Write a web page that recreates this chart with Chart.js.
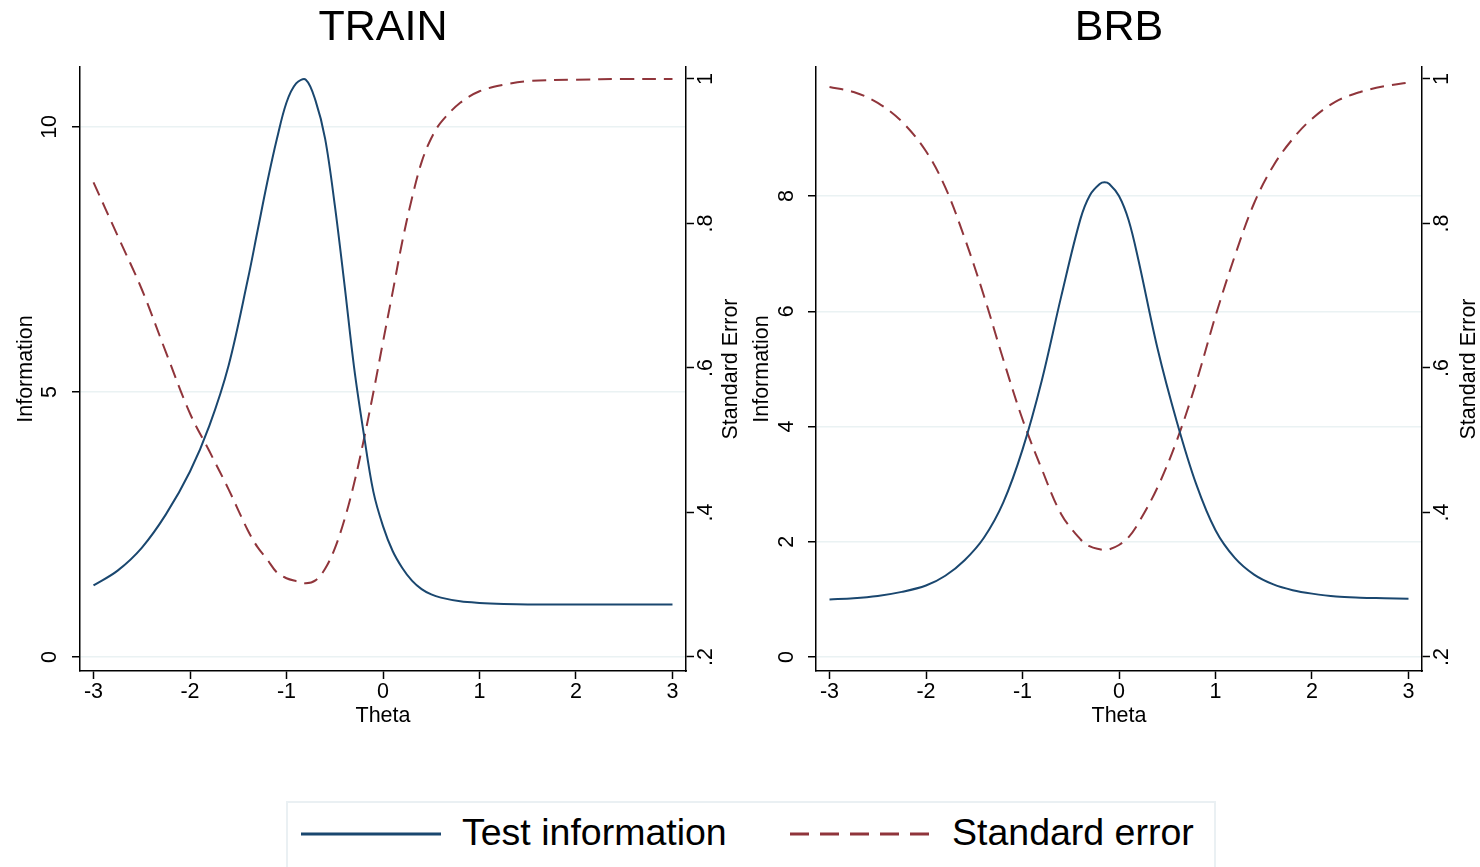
<!DOCTYPE html>
<html>
<head>
<meta charset="utf-8">
<title>TRAIN / BRB test information</title>
<script src="https://cdn.jsdelivr.net/npm/chart.js@4/dist/chart.umd.min.js"></script>
<style>
  html, body { margin: 0; padding: 0; background: #fff; }
  body { position: relative; width: 1480px; height: 867px; overflow: hidden;
         font-family: "Liberation Sans", Arial, sans-serif; }
  .panel { position: absolute; top: 0; width: 740px; height: 760px; }
  #legend-box { position: absolute; left: 286px; top: 801px; width: 926px; height: 90px;
                border: 2px solid #eaf0f3; background: #fff; }
  .key { position: absolute; top: 829px; }
  .key-text { position: absolute; top: 814px; font-size: 37.5px; line-height: 37px; color: #000; white-space: nowrap; }
</style>
</head>
<body>
<div class="panel" style="left:0"><canvas id="chart-train"></canvas></div>
<div class="panel" style="left:740px"><canvas id="chart-brb"></canvas></div>

<div id="legend-box"></div>
<svg class="key" style="left:300px" width="142" height="10">
  <line x1="1" y1="5" x2="141" y2="5" stroke="#1a476f" stroke-width="3"/>
</svg>
<span class="key-text" style="left:462px">Test information</span>
<svg class="key" style="left:789px" width="142" height="10">
  <line x1="1" y1="5" x2="141" y2="5" stroke="#90353b" stroke-width="3" stroke-dasharray="19 11"/>
</svg>
<span class="key-text" style="left:952px">Standard error</span>

<script>
// values
const thetaTicks = [-3, -2, -1, 0, 1, 2, 3];
const seTicks = [0.2, 0.4, 0.6, 0.8, 1];
const seTickLabels = ['.2', '.4', '.6', '.8', '1'];
const trainInfoTicks = [0, 5, 10];
const brbInfoTicks = [0, 2, 4, 6, 8];

const trainTheta = [-3, -2.75, -2.5, -2.25, -2, -1.8, -1.6, -1.4, -1.3, -1.2, -1.1, -1,
  -0.9, -0.8, -0.7, -0.6, -0.5, -0.4, -0.3, -0.2, -0.1, 0, 0.1, 0.2, 0.3, 0.4, 0.5,
  0.6, 0.8, 1, 1.25, 1.5, 2, 2.5, 3];
const trainInfo = [1.35, 1.63, 2.06, 2.69, 3.50, 4.36, 5.50, 7.13, 8.04, 8.95, 9.77, 10.46,
  10.82, 10.89, 10.50, 9.78, 8.53, 7.04, 5.47, 4.22, 3.12, 2.47, 2.00, 1.68, 1.44, 1.28, 1.18,
  1.12, 1.05, 1.02, 1.00, 0.99, 0.99, 0.99, 0.99];
const trainSE = [0.857, 0.783, 0.709, 0.622, 0.537, 0.485, 0.432, 0.375, 0.352, 0.335, 0.317, 0.309,
  0.305, 0.302, 0.306, 0.322, 0.350, 0.390, 0.440, 0.500, 0.566, 0.636, 0.705, 0.775, 0.835, 0.885, 0.918,
  0.940, 0.967, 0.983, 0.992, 0.997, 0.999, 1.0, 1.0];

const brbTheta = [-3, -2.75, -2.5, -2.25, -2, -1.8, -1.6, -1.4, -1.2, -1, -0.8, -0.6, -0.4,
  -0.3, -0.2, -0.15, -0.1, 0, 0.1, 0.2, 0.4, 0.6, 0.8, 1, 1.2, 1.4, 1.6, 1.8, 2, 2.25, 2.5, 2.75, 3];
const brbInfo = [1.00, 1.02, 1.06, 1.13, 1.24, 1.41, 1.68, 2.07, 2.68, 3.60, 4.80, 6.25, 7.60,
  8.02, 8.21, 8.24, 8.21, 8.00, 7.58, 6.90, 5.35, 4.08, 3.00, 2.20, 1.72, 1.43, 1.26, 1.16, 1.10, 1.05,
  1.03, 1.02, 1.01];
const brbSE = [0.989, 0.982, 0.967, 0.941, 0.900, 0.850, 0.780, 0.700, 0.612, 0.529, 0.460, 0.398, 0.363,
  0.353, 0.349, 0.348, 0.349, 0.355, 0.366, 0.385, 0.435, 0.500, 0.580, 0.672, 0.755, 0.828, 0.880, 0.917, 0.945,
  0.969, 0.982, 0.990, 0.995];

const BLUE = '#1a476f';
const RED = '#90353b';
const GRID = '#eaf2f3';
const FONT = '"Liberation Sans", Arial, sans-serif';

Chart.defaults.font.family = FONT;
Chart.defaults.color = '#000';

// panel title over the plot area + right axis title reading bottom-to-top
const panelText = {
    id: 'panelText',
    afterDraw(chart, args, o) {
        const { ctx, chartArea } = chart;
        ctx.save();
        ctx.fillStyle = '#000';
        ctx.textAlign = 'center';
        ctx.textBaseline = 'middle';
        ctx.font = '43px ' + FONT;
        ctx.fillText(o.title, (chartArea.left + chartArea.right) / 2, o.titleY);
        ctx.font = '21.5px ' + FONT;
        ctx.translate(o.rightTitleX, (chartArea.top + chartArea.bottom) / 2);
        ctx.rotate(-Math.PI / 2);
        ctx.fillText(o.rightTitle, 0, 0);
        ctx.restore();
    }
};

function points(xs, ys) {
    return xs.map((x, i) => ({ x: x, y: ys[i] }));
}

function makeChart(id, cfg) {
    const tickFont = { size: 21.5 };
    return new Chart(document.getElementById(id), {
        type: 'line',
        data: {
            datasets: [{
                label: 'Test information',
                data: points(cfg.theta, cfg.info),
                yAxisID: 'y',
                borderColor: BLUE,
                borderWidth: 2,
                pointRadius: 0,
                tension: 0.35,
                fill: false
            }, {
                label: 'Standard error',
                data: points(cfg.theta, cfg.se),
                yAxisID: 'y2',
                borderColor: RED,
                borderWidth: 2,
                borderDash: [14, 8],
                pointRadius: 0,
                tension: 0.35,
                fill: false
            }]
        },
        options: {
            responsive: true,
            maintainAspectRatio: false,
            animation: false,
            layout: { padding: { top: 67, left: 0, right: 0, bottom: 0 } },
            plugins: {
                legend: { display: false },
                tooltip: { enabled: false },
                panelText: { title: cfg.title, titleY: 28.5, rightTitle: 'Standard Error', rightTitleX: cfg.rightTitleX }
            },
            scales: {
                x: {
                    type: 'linear',
                    min: -3.14,
                    max: 3.14,
                    afterBuildTicks: s => { s.ticks = thetaTicks.map(v => ({ value: v })); },
                    afterFit: s => { s.height = 89; },
                    grid: { drawOnChartArea: false, tickLength: 8, tickColor: '#000', tickWidth: 1.5 },
                    border: { color: '#000', width: 1.5 },
                    ticks: { color: '#000', font: tickFont, padding: 0, maxRotation: 0, autoSkip: false },
                    title: { display: true, text: 'Theta', color: '#000', font: tickFont, padding: { top: 0, bottom: 31 } }
                },
                y: {
                    type: 'linear',
                    position: 'left',
                    min: cfg.infoMin,
                    max: cfg.infoMax,
                    afterBuildTicks: s => { s.ticks = cfg.infoTicks.map(v => ({ value: v })); },
                    afterFit: s => { s.width = cfg.leftWidth; },
                    grid: { color: GRID, lineWidth: 1.5, tickLength: 8, tickColor: '#000', tickWidth: 1.5 },
                    border: { color: '#000', width: 1.5 },
                    ticks: { color: '#000', font: tickFont, minRotation: 90, maxRotation: 90, crossAlign: 'center',
                             padding: cfg.leftTickPad, autoSkip: false },
                    title: { display: true, text: 'Information', color: '#000', font: tickFont,
                             padding: { top: cfg.leftTitlePad, bottom: 0 } }
                },
                y2: {
                    type: 'linear',
                    position: 'right',
                    min: 0.1806,
                    max: 1.0166,
                    afterBuildTicks: s => { s.ticks = seTicks.map(v => ({ value: v })); },
                    afterFit: s => { s.width = cfg.rightWidth; },
                    grid: { drawOnChartArea: false, tickLength: 8, tickColor: '#000', tickWidth: 1.5 },
                    border: { color: '#000', width: 1.5 },
                    ticks: { color: '#000', font: tickFont, minRotation: 90, maxRotation: 90, crossAlign: 'center',
                             padding: 3, autoSkip: false, callback: (v, i) => seTickLabels[i] },
                    title: { display: false }
                }
            }
        },
        plugins: [panelText]
    });
}

makeChart('chart-train', {
    title: 'TRAIN',
    theta: trainTheta, info: trainInfo, se: trainSE,
    infoMin: -0.264, infoMax: 11.13, infoTicks: trainInfoTicks,
    leftWidth: 80, rightWidth: 54, leftTickPad: 10, leftTitlePad: 13, rightTitleX: 731
});

makeChart('chart-brb', {
    title: 'BRB',
    theta: brbTheta, info: brbInfo, se: brbSE,
    infoMin: -0.243, infoMax: 10.24, infoTicks: brbInfoTicks,
    leftWidth: 76, rightWidth: 58, leftTickPad: 15, leftTitlePad: 9, rightTitleX: 729
});
</script>
</body>
</html>
